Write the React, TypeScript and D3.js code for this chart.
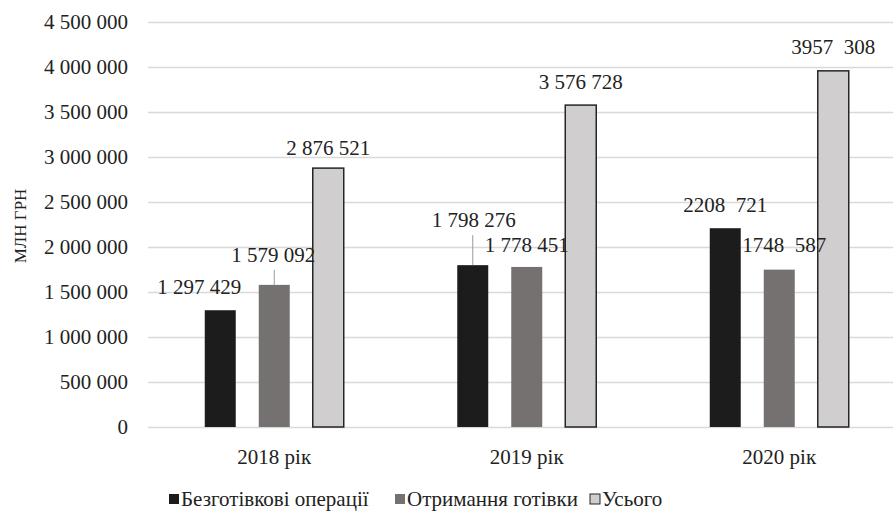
import React from "react";
import * as d3 from "d3";

const categories = ["2018 рік", "2019 рік", "2020 рік"];
const seriesNames = ["Безготівкові операції", "Отримання готівки", "Усього"];
const cashless = [1297429, 1798276, 2208721];
const cashOut = [1579092, 1778451, 1748587];
const total = [2876521, 3576728, 3957308];
const cashlessLabels = ["1 297 429", "1 798 276", "2208  721"];
const cashOutLabels = ["1 579 092", "1 778 451", "1748  587"];
const totalLabels = ["2 876 521", "3 576 728", "3957  308"];
const yTicks = [0, 500000, 1000000, 1500000, 2000000, 2500000, 3000000, 3500000, 4000000, 4500000];
const yTitle = "МЛН ГРН";

const colors = ["#1c1c1c", "#767171", "#d0cece"];
const strokes = ["none", "none", "#262626"];
// label offsets relative to bar top/center: [dx, dy, leaderLength]
const labelOffsets = [
  [[-21, -23, 0], [-1, -30, 15], [0, -20, 0]],
  [[1, -45, 30], [0, -22, 0], [0, -23, 0]],
  [[0, -23, 0], [5, -25, 0], [0, -24, 0]],
];

const W = 895;
const H = 512;
const FONT = "'Times New Roman', Times, 'Liberation Serif', 'DejaVu Serif', serif";

export default function App() {
  const y = d3.scaleLinear().domain([0, 4500000]).range([427, 22]);
  const x = d3.scaleBand<string>().domain(categories).range([148, 905.5]).padding(0);
  const sub = d3
    .scaleBand<string>()
    .domain(seriesNames)
    .range([-81, 81])
    .paddingInner(0.426)
    .paddingOuter(0.213);
  const values = [cashless, cashOut, total];
  const labels = [cashlessLabels, cashOutLabels, totalLabels];
  const fmt = (v: number) => d3.format(",")(v).replace(/,/g, " ");
  const gridRight = 893;
  const ts = { fontFamily: FONT, whiteSpace: "pre" as const };

  return (
    <svg width={W} height={H} style={{ display: "block", position: "absolute", left: 0, top: 0, background: "#fff", fontFamily: FONT }}>
      <rect width={W} height={H} fill="#fff" />
      {yTicks.map((t) => (
        <g key={t}>
          <line x1={148} x2={gridRight} y1={Math.round(y(t)) + 0.5} y2={Math.round(y(t)) + 0.5} stroke="#d9d9d9" strokeWidth={1.5} />
          <text x={128} y={y(t)} textAnchor="end" dominantBaseline="central" fontSize={21} fill="#222" style={ts}>
            {fmt(t)}
          </text>
        </g>
      ))}
      <text
        transform={`translate(20,226) rotate(-90)`}
        textAnchor="middle"
        dominantBaseline="central"
        fontSize={17}
        fill="#222"
        style={ts}
      >
        {yTitle}
      </text>
      {categories.map((c, ci) =>
        seriesNames.map((s, si) => {
          const v = values[si][ci];
          const bx = (x(c) as number) + x.bandwidth() / 2 + (sub(s) as number);
          const bw = sub.bandwidth();
          const top = y(v);
          return (
            <rect
              key={c + s}
              x={bx}
              y={top}
              width={bw}
              height={y(0) - top}
              fill={colors[si]}
              stroke={strokes[si]}
              strokeWidth={1.5}
            />
          );
        })
      )}
      {categories.map((c, ci) =>
        seriesNames.map((s, si) => {
          const v = values[si][ci];
          const cx = (x(c) as number) + x.bandwidth() / 2 + (sub(s) as number) + sub.bandwidth() / 2;
          const top = y(v);
          const [dx, dy, lead] = labelOffsets[ci][si];
          return (
            <g key={"l" + c + s}>
              {lead > 0 && (
                <line x1={cx} x2={cx} y1={top - lead} y2={top} stroke="#9a9a9a" strokeWidth={1} />
              )}
              <text
                x={cx + dx}
                y={top + dy}
                textAnchor="middle"
                dominantBaseline="central"
                fontSize={21}
                fill="#222"
                style={ts}
              >
                {labels[si][ci]}
              </text>
            </g>
          );
        })
      )}
      {categories.map((c) => (
        <text
          key={"c" + c}
          x={(x(c) as number) + x.bandwidth() / 2}
          y={457}
          textAnchor="middle"
          dominantBaseline="central"
          fontSize={21}
          fill="#222"
          style={ts}
        >
          {c}
        </text>
      ))}
      {seriesNames.map((s, i) => {
        const lx = [169, 395, 590][i];
        return (
          <g key={"lg" + s}>
            <rect x={lx} y={494} width={10} height={10} fill={colors[i]} stroke={strokes[i]} strokeWidth={1} />
            <text x={lx + 12} y={499} dominantBaseline="central" fontSize={21} fill="#222" style={ts}>
              {s}
            </text>
          </g>
        );
      })}
    </svg>
  );
}
